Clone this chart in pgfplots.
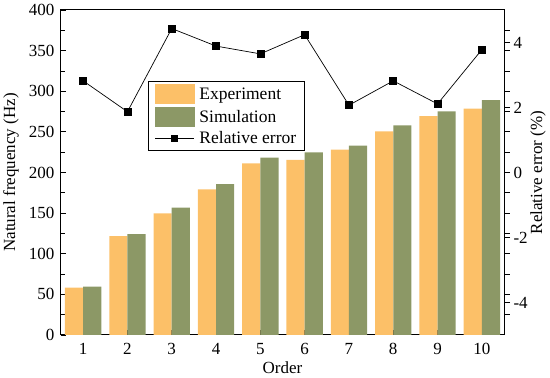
\documentclass[border=0pt]{standalone}
\usepackage{fontspec}
\setmainfont{Liberation Serif}
\usepackage{pgfplots}
\usepackage{pgfplotstable}
\pgfplotsset{compat=1.18}
\definecolor{expc}{RGB}{252,192,104}
\definecolor{simc}{RGB}{140,152,102}
\pgfplotstableread{
x e s r
1 58.2 59.5 2.82
2 121.8 124.3 1.87
3 149.7 156.7 4.43
4 179.3 185.8 3.89
5 211.3 218.2 3.65
6 215.4 224.8 4.24
7 228.0 233.0 2.07
8 250.7 258.0 2.82
9 269.5 275.3 2.11
10 278.5 289.2 3.78
}\data
\begin{document}
\begin{tikzpicture}
\pgfplotsset{every axis/.append style={scale only axis, width=443pt, height=325pt,
  xmin=0.5, xmax=10.5, font=\fontsize{17}{20}\selectfont,
  /pgf/number format/assume math mode=true,
  axis line style={line width=1pt}, tick style={black, line width=0.8pt}}}
\begin{axis}[
  ymin=0, ymax=400,
  ybar=0pt, bar width=0.41,
  xtick={1,...,10}, xtick pos=lower, ytick pos=left,
  ytick={0,50,...,400}, minor y tick num=1,
  tick align=inside,
  major tick length=5pt, minor tick length=4pt,
  yticklabel style={xshift=-3pt},
  xticklabel style={yshift=-5pt},
  xlabel={Order}, ylabel={Natural frequency (Hz)},
  xlabel style={at={(axis description cs:0.5,-0.1015)}, anchor=center},
  ylabel style={at={(axis description cs:-0.113,0.5)}, anchor=center},
]
\addplot[fill=expc, draw=none] table[x=x,y=e]{\data};
\addplot[fill=simc, draw=none] table[x=x,y=s]{\data};
\end{axis}
\begin{axis}[
  ymin=-5, ymax=5, axis y line*=right, axis x line=none,
  ytick={-4,-2,0,2,4}, tick align=outside,
  major tick length=6pt,
  extra y ticks={-4.375,-3.75,-3.125,-2.5,-1.875,-1.25,-0.625,0.625,1.25,1.875,2.5,3.125,3.75,4.375},
  extra y tick labels={},
  extra y tick style={major tick length=5.5pt},
  ylabel={Relative error (\%)},
  ylabel style={at={(axis description cs:1.077,0.5)}, anchor=center},
  legend style={at={(0.197,0.7825)}, anchor=north west, draw=black, line width=0.8pt,
    inner xsep=6pt, inner ysep=3pt, row sep=3pt, cells={anchor=west},
    /tikz/every odd column/.append style={column sep=3pt},
    font=\fontsize{17.5}{20}\selectfont},
]
\addlegendimage{legend image code/.code={\fill[expc] (0pt,-9.5pt) rectangle (39pt,9.5pt);}}
\addlegendimage{legend image code/.code={\fill[simc] (0pt,-9.5pt) rectangle (39pt,9.5pt);}}
\addplot[black, line width=0.7pt, mark=square*, mark size=3.5pt,
  legend image code/.code={\draw[black, line width=0.7pt] (0pt,0pt) -- (39pt,0pt); \fill[black] (16.5pt,-3pt) rectangle (22.5pt,3pt);}]
  table[x=x,y=r]{\data};
\legend{Experiment, Simulation, Relative error}
\end{axis}
\pgfresetboundingbox
\useasboundingbox (-61pt,-43pt) rectangle (489pt,335pt);
\end{tikzpicture}
\end{document}
